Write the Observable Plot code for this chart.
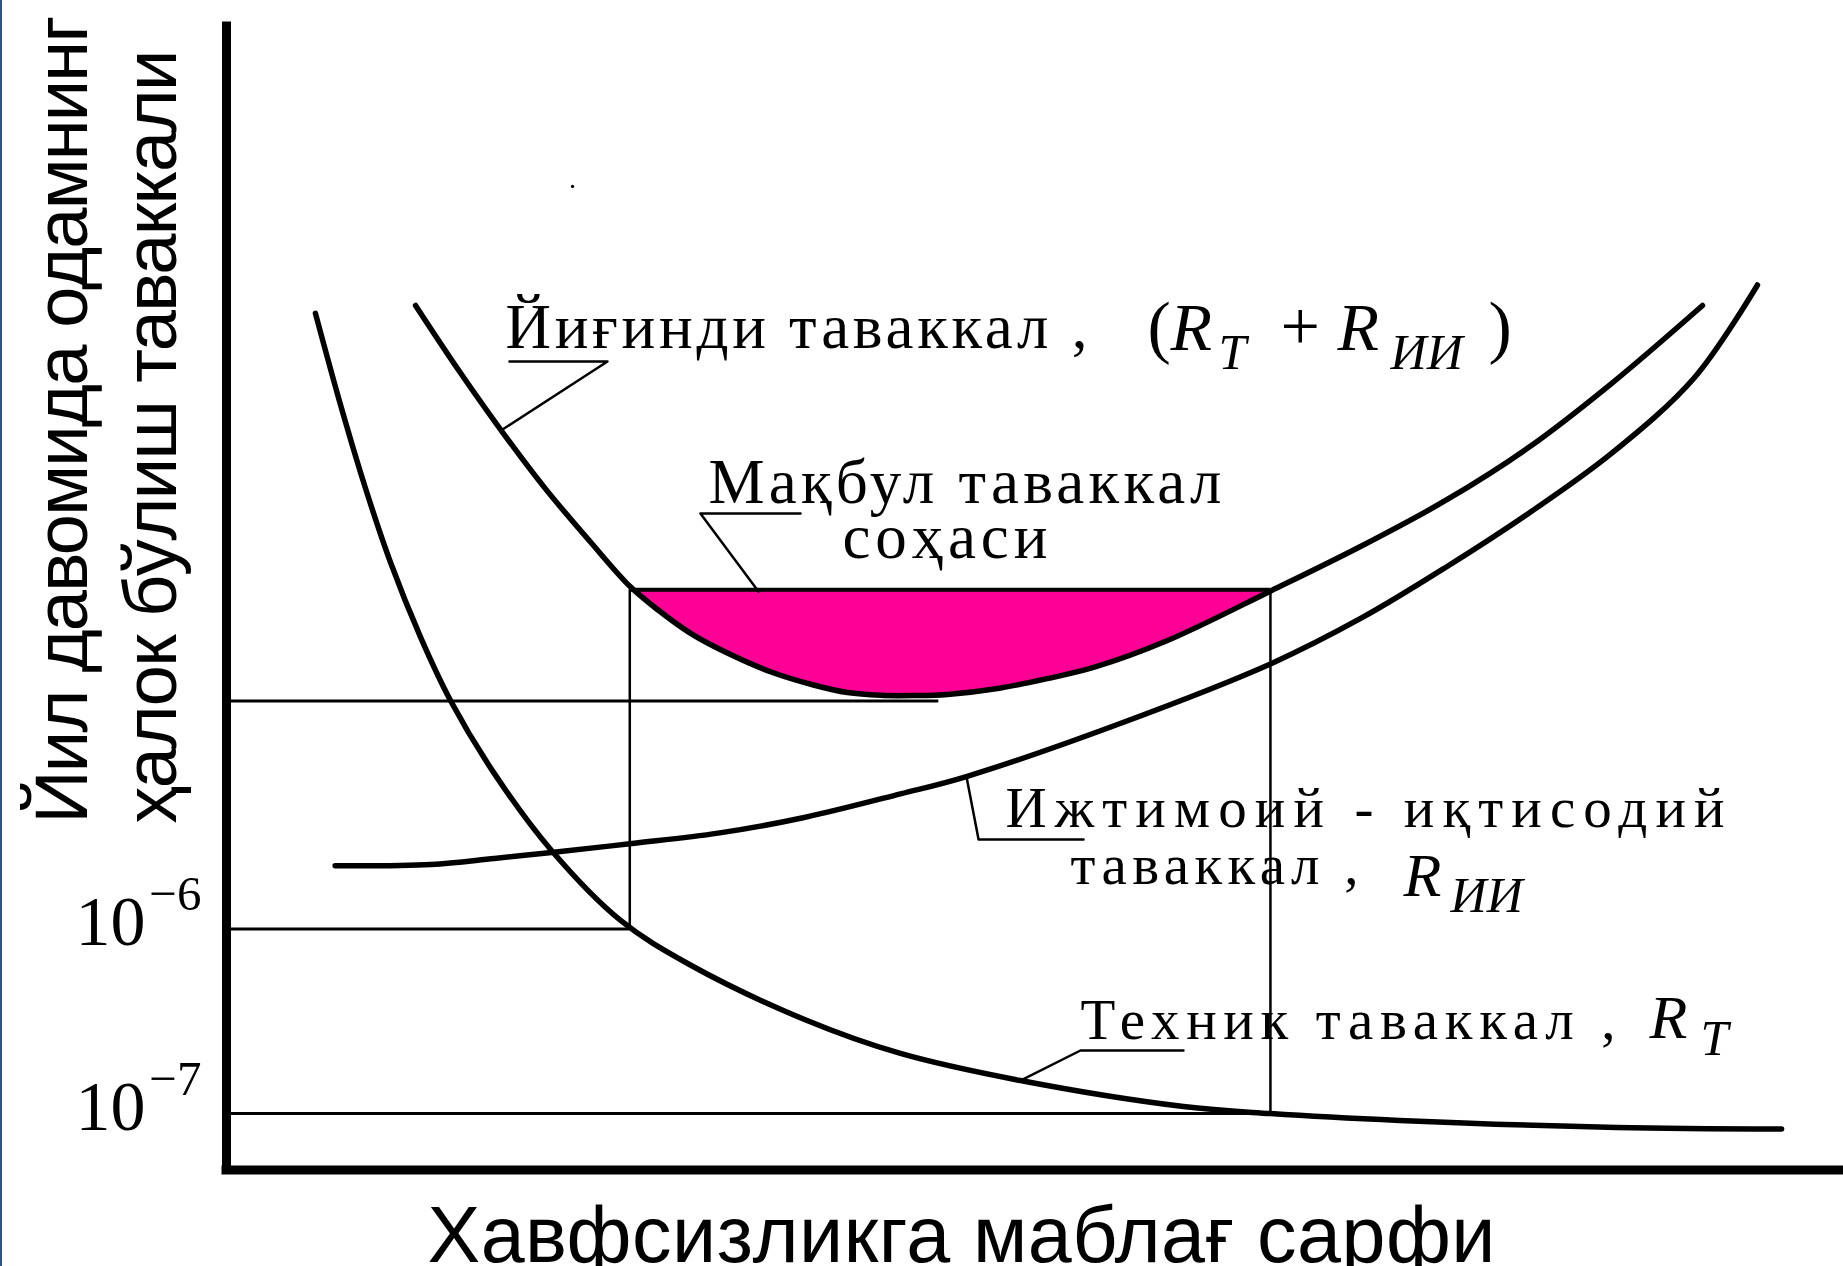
<!DOCTYPE html>
<html>
<head>
<meta charset="utf-8">
<script src="https://cdn.jsdelivr.net/npm/d3@7"></script>
<script src="https://cdn.jsdelivr.net/npm/@observablehq/plot@0.6"></script>
<style>
  html, body { margin: 0; padding: 0; background: #fff; overflow: hidden; }
  #chart { position: relative; width: 1843px; height: 1266px; }
  #chart svg { display: block; }
  #edge { position: absolute; left: 0; top: 0; width: 2px; height: 1266px; background: #2b5592; }
</style>
</head>
<body>
<div id="chart"></div>
<script>
// ---------------- data (x: safety spending, arbitrary units; y: log10 of yearly risk) ----------------
const xDomain = [0, 100];
const yDomain = [-7.3057, -1.108];

// Technical risk R_T
const technicalSpend = [5.50, 7.05, 8.60, 10.14, 12.00, 13.85, 16.64, 20.10, 24.37, 28.63, 35.75, 41.68, 49.10, 59.18, 64.56, 72.54, 85.96, 96.17];
const technicalRisk  = [-2.663, -3.158, -3.612, -4.012, -4.418, -4.761, -5.167, -5.574, -5.953, -6.192, -6.490, -6.674, -6.821, -6.962, -7.000, -7.037, -7.075, -7.083];

// Socio-economic risk R_ИИ
const socialSpend = [6.72, 12.65, 16.56, 20.10, 25.08, 30.40, 35.73, 41.68, 45.76, 55.10, 64.63, 70.25, 75.39, 80.52, 85.65, 90.79, 94.68];
const socialRisk  = [-5.657, -5.650, -5.617, -5.585, -5.536, -5.480, -5.395, -5.267, -5.173, -4.891, -4.560, -4.311, -4.040, -3.747, -3.422, -3.010, -2.509];

// Total risk R_T + R_ИИ
const totalSpend = [11.69, 14.41, 17.13, 19.73, 22.51, 24.98, 26.65, 28.70, 31.17, 33.64, 36.30, 38.40, 40.45, 42.49, 44.59, 47.68, 50.77, 53.62, 58.19, 64.63, 70.25, 75.39, 80.52, 85.65, 91.28];
const totalRisk  = [-2.620, -2.978, -3.314, -3.614, -3.902, -4.145, -4.268, -4.397, -4.512, -4.605, -4.677, -4.718, -4.733, -4.734, -4.728, -4.696, -4.642, -4.582, -4.436, -4.165, -3.921, -3.677, -3.390, -3.043, -2.620];

// Acceptable-risk band
const acceptableRisk = -4.161;
const acceptableSpend = [24.94, 64.56];
const minimumTotalRisk = -4.764;
const minimumLineEnd = 44.05;

// Y ticks (10^-6, 10^-7)
const yTicks = [-6, -7];
const tickBase = ["10", "10"];
const tickExponent = ["\u22126", "\u22127"];

// Labels
const bigLabelText = ["Йиғинди таваккал ,", "Мақбул таваккал", "соҳаси"];
const bigLabelX = [17.25, 29.81, 38.09];
const bigLabelY = [-2.848, -3.688, -3.991];

const smallLabelText = ["Ижтимоий - иқтисодий", "таваккал ,", "Техник таваккал ,"];
const smallLabelX = [48.18, 52.20, 52.81];
const smallLabelY = [-5.444, -5.753, -6.593];

const formulaUprightText = ["(", "+", ")"];
const formulaUprightX = [56.96, 65.18, 78.05];
const formulaUprightY = [-2.864, -2.864, -2.864];

const formulaRText = ["R", "R"];
const formulaRX = [58.38, 68.71];
const formulaRY = [-2.864, -2.864];

const formulaSubText = ["Т", "ИИ"];
const formulaSubX = [61.35, 71.99];
const formulaSubY = [-2.962, -2.962];

const curveRText = ["R", "R"];
const curveRX = [72.79, 88.00];
const curveRY = [-5.823, -6.588];

const curveSubText = ["ИИ", "Т"];
const curveSubX = [75.70, 91.16];
const curveSubY = [-5.910, -6.685];

// Leader lines (label pointers)
const leaderId = ["total", "total", "total", "accept", "accept", "accept", "social", "social", "social", "tech", "tech", "tech"];
const leaderX = [17.50, 23.56, 17.07, 35.50, 29.31, 32.90, 45.76, 46.51, 53.00, 49.10, 52.81, 59.18];
const leaderY = [-2.924, -2.924, -3.292, -3.747, -3.747, -4.17, -5.173, -5.514, -5.514, -6.821, -6.658, -6.658];

// Axis titles
const yTitleText = ["Йил давомида одамнинг", "ҳалок бўлиш таваккали"];
const yTitleX = [-8.61, -3.15];
const yTitleY = [-5.428, -5.428];
const xTitleText = ["Хавфсизликга маблағ сарфи"];
const xTitleX = [12.43];
const xTitleY = [-7.802];

// stray speck in the original
const speckX = [21.40];
const speckY = [-1.975];

// ---------------- tables ----------------
const zip = (xs, ys, extra) => xs.map((x, i) => ({x, y: ys[i], ...(extra ? {text: extra[i]} : {})}));
const technical = zip(technicalSpend, technicalRisk);
const social = zip(socialSpend, socialRisk);
const total = zip(totalSpend, totalRisk);
const fillPts = total.filter(d => d.x >= acceptableSpend[0] - 0.2 && d.x <= acceptableSpend[1] + 0.2);
const guideLevels = [
  {y: -6, x2: acceptableSpend[0]},
  {y: -7, x2: acceptableSpend[1]},
  {y: minimumTotalRisk, x2: minimumLineEnd}
];
const guideVerticals = [
  {x: acceptableSpend[0], y1: -6, y2: acceptableRisk},
  {x: acceptableSpend[1], y1: -7, y2: acceptableRisk}
];
const leaders = leaderX.map((x, i) => ({id: leaderId[i], x, y: leaderY[i]}));

// ---------------- styles ----------------
const SERIF = "Liberation Serif";
const SANS = "Liberation Sans";
const fitWidths = {
  "Йиғинди таваккал ,": 582,
  "Мақбул таваккал": 513,
  "соҳаси": 205,
  "Ижтимоий - иқтисодий": 719,
  "таваккал ,": 288,
  "Техник таваккал ,": 535,
  "Йил давомида одамнинг": 808,
  "ҳалок бўлиш таваккали": 774,
  "Хавфсизликга маблағ сарфи": 1068
};

const plot = Plot.plot({
  width: 1843,
  height: 1266,
  marginLeft: 226,
  marginRight: 0,
  marginTop: 26,
  marginBottom: 96.5,
  x: {domain: xDomain, axis: null},
  y: {domain: yDomain, axis: null},
  style: {background: "white", overflow: "visible"},
  marks: [
    Plot.areaY(fillPts, {x: "x", y1: "y", y2: () => acceptableRisk, fill: "#ff0096", curve: "catmull-rom"}),
    Plot.ruleY(guideLevels, {y: "y", x1: 0, x2: "x2", stroke: "black", strokeWidth: 3}),
    Plot.ruleX(guideVerticals, {x: "x", y1: "y1", y2: "y2", stroke: "black", strokeWidth: 2.5}),
    Plot.ruleY([acceptableRisk], {x1: acceptableSpend[0], x2: acceptableSpend[1], stroke: "black", strokeWidth: 4}),
    Plot.line(technical, {x: "x", y: "y", stroke: "black", strokeWidth: 5.5, curve: "catmull-rom"}),
    Plot.line(social, {x: "x", y: "y", stroke: "black", strokeWidth: 5.5, curve: "catmull-rom"}),
    Plot.line(total, {x: "x", y: "y", stroke: "black", strokeWidth: 5.5, curve: "catmull-rom"}),
    Plot.line(leaders, {x: "x", y: "y", z: "id", stroke: "black", strokeWidth: 2.5, curve: "linear"}),
    Plot.ruleX([xDomain[0]], {y1: yDomain[0], y2: yDomain[1], stroke: "black", strokeWidth: 9, strokeLinecap: "square"}),
    Plot.ruleY([yDomain[0]], {x1: xDomain[0], x2: xDomain[1], stroke: "black", strokeWidth: 9, strokeLinecap: "square"}),
    Plot.dot(zip(speckX, speckY), {x: "x", y: "y", r: 1.6, fill: "black", stroke: null}),
    // y tick labels
    Plot.text(yTicks, {x: 0, y: d => d, text: (d, i) => tickBase[i], textAnchor: "end", lineAnchor: "bottom", dx: -81, dy: 16, fontFamily: SERIF, fontSize: 70}),
    Plot.text(yTicks, {x: 0, y: d => d, text: (d, i) => tickExponent[i], textAnchor: "end", lineAnchor: "bottom", dx: -25, dy: -19, fontFamily: SERIF, fontSize: 49}),
    // annotations
    Plot.text(zip(bigLabelX, bigLabelY, bigLabelText), {x: "x", y: "y", text: "text", textAnchor: "start", lineAnchor: "bottom", fontFamily: SERIF, fontSize: 63}),
    Plot.text(zip(smallLabelX, smallLabelY, smallLabelText), {x: "x", y: "y", text: "text", textAnchor: "start", lineAnchor: "bottom", fontFamily: SERIF, fontSize: 57}),
    Plot.text(zip(formulaUprightX, formulaUprightY, formulaUprightText), {x: "x", y: "y", text: "text", textAnchor: "start", lineAnchor: "bottom", fontFamily: SERIF, fontSize: 70}),
    Plot.text(zip(formulaRX, formulaRY, formulaRText), {x: "x", y: "y", text: "text", textAnchor: "start", lineAnchor: "bottom", fontFamily: SERIF, fontStyle: "italic", fontSize: 68}),
    Plot.text(zip(formulaSubX, formulaSubY, formulaSubText), {x: "x", y: "y", text: "text", textAnchor: "start", lineAnchor: "bottom", fontFamily: SERIF, fontStyle: "italic", fontSize: 50}),
    Plot.text(zip(curveRX, curveRY, curveRText), {x: "x", y: "y", text: "text", textAnchor: "start", lineAnchor: "bottom", fontFamily: SERIF, fontStyle: "italic", fontSize: 62}),
    Plot.text(zip(curveSubX, curveSubY, curveSubText), {x: "x", y: "y", text: "text", textAnchor: "start", lineAnchor: "bottom", fontFamily: SERIF, fontStyle: "italic", fontSize: 50}),
    // axis titles
    Plot.text(zip(yTitleX, yTitleY, yTitleText), {x: "x", y: "y", text: "text", rotate: -90, textAnchor: "start", lineAnchor: "bottom", fontFamily: SANS, fontSize: 74}),
    Plot.text(zip(xTitleX, xTitleY, xTitleText), {x: "x", y: "y", text: "text", textAnchor: "start", lineAnchor: "bottom", fontFamily: SANS, fontSize: 79})
  ]
});

d3.select(plot).selectAll("text").each(function () {
  const w = fitWidths[this.textContent];
  if (w) {
    this.setAttribute("textLength", w);
    this.setAttribute("lengthAdjust", "spacing");
  }
});

const chart = document.getElementById("chart");
chart.appendChild(plot);
const edge = document.createElement("div");
edge.id = "edge";
chart.appendChild(edge);
</script>
</body>
</html>
